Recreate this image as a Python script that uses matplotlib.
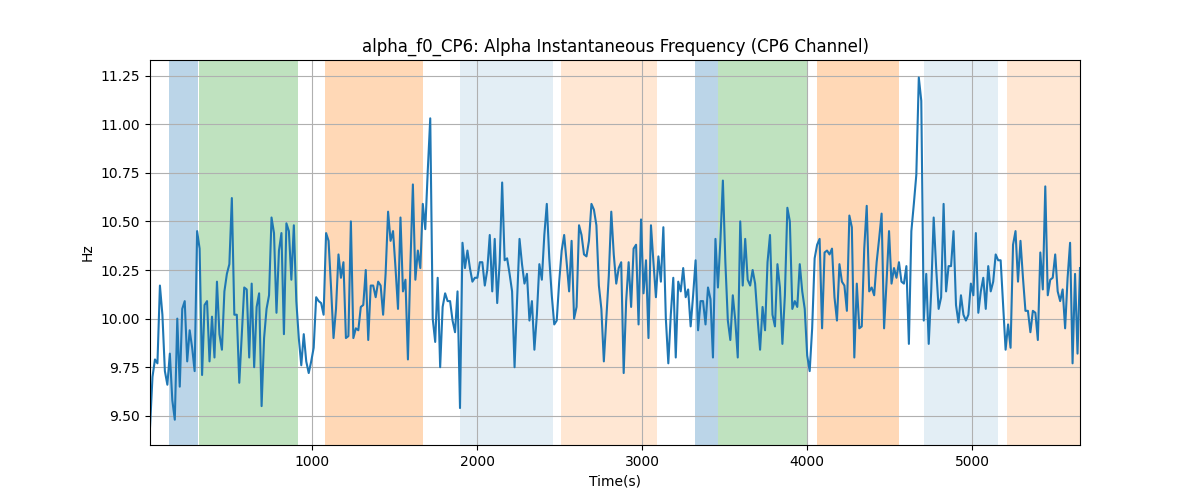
import numpy as np
import matplotlib
matplotlib.use("Agg")
import matplotlib.pyplot as plt

t_start = 17
t_end = 5655

freq = [
    # 17 - ~800 s
    9.44, 9.70, 9.79, 9.77, 10.17, 10.02, 9.73, 9.66, 9.82, 9.58, 9.48, 10.00, 9.65, 10.05, 10.09,
    9.78, 9.94, 9.85, 9.73, 10.45, 10.36, 9.71, 10.07, 10.09, 9.78, 10.01, 9.80, 10.19, 9.92, 9.84,
    10.14, 10.23, 10.28, 10.62, 10.02, 10.02, 9.67, 9.92, 10.16, 10.15, 9.80, 10.18, 9.75, 10.06, 10.13,
    9.55, 9.90, 10.05, 10.12, 10.52, 10.44, 10.03, 10.35, 10.44,
    # ~800 - 1600 s
    9.92, 10.49, 10.45, 10.20, 10.48, 10.09, 9.90, 9.76, 9.92, 9.78, 9.72, 9.78, 9.85, 10.11, 10.09,
    10.08, 10.02, 10.44, 10.40, 10.16, 9.90, 10.05, 10.33, 10.21, 10.29, 9.90, 9.91, 10.50, 9.90, 9.95,
    9.94, 10.06, 10.07, 10.25, 9.89, 10.17, 10.17, 10.11, 10.19, 10.17, 10.02, 10.23, 10.55, 10.40, 10.45,
    10.26, 10.05, 10.52, 10.14, 10.20, 9.79, 10.28, 10.69,
    # ~1600 - 2400 s
    10.20, 10.35, 10.26, 10.59, 10.46, 10.76, 11.03, 10.00, 9.88, 10.21, 9.75, 10.06, 10.13, 10.09, 10.09,
    9.99, 9.93, 10.14, 9.54, 10.39, 10.26, 10.35, 10.26, 10.19, 10.21, 10.21, 10.29, 10.29, 10.17, 10.25,
    10.43, 10.14, 10.41, 10.08, 10.29, 10.70, 10.30, 10.31, 10.23, 10.14, 9.75, 10.09, 10.41, 10.28, 10.18,
    10.23, 9.99, 10.09, 9.84, 10.02, 10.28, 10.20, 10.43, 10.59,
    # ~2400 - 3200 s
    10.31, 10.12, 9.97, 9.99, 10.19, 10.35, 10.43, 10.29, 10.14, 10.40, 10.00, 10.06, 10.48, 10.43, 10.33,
    10.32, 10.40, 10.59, 10.56, 10.48, 10.17, 10.05, 9.78, 10.00, 10.22, 10.55, 10.33, 10.18, 10.26, 10.29,
    9.72, 10.09, 10.29, 10.06, 10.36, 10.38, 9.97, 10.51, 10.13, 10.30, 9.90, 10.48, 10.29, 10.11, 10.32,
    10.19, 10.47, 10.00, 9.77, 10.02, 10.21, 9.80, 10.19, 10.14,
    # ~3200 - 4000 s
    10.26, 10.11, 10.15, 9.96, 10.12, 10.30, 9.94, 10.09, 10.09, 9.97, 10.16, 10.10, 9.80, 10.41, 10.16,
    10.40, 10.71, 10.29, 9.99, 9.89, 10.12, 9.99, 9.80, 10.50, 10.17, 10.41, 10.20, 10.17, 10.25, 10.18,
    10.00, 9.84, 10.06, 9.94, 10.29, 10.43, 10.02, 9.96, 10.28, 10.16, 9.87, 10.12, 10.57, 10.50, 10.05,
    10.09, 10.06, 10.28, 10.14, 10.05, 9.81, 9.73, 9.95, 10.31,
    # ~4000 - 4800 s
    10.38, 10.41, 9.95, 10.34, 10.35, 10.33, 10.36, 10.11, 9.99, 10.28, 10.19, 10.17, 10.04, 10.53, 10.47,
    9.80, 10.18, 9.95, 9.96, 10.36, 10.58, 10.14, 10.16, 10.12, 10.29, 10.41, 10.54, 9.95, 10.19, 10.45,
    10.18, 10.26, 10.21, 10.29, 10.19, 10.18, 10.27, 9.87, 10.45, 10.59, 10.74, 11.24, 11.12, 9.99, 10.23,
    9.87, 10.14, 10.52, 10.26, 10.05, 10.11, 10.59, 10.14,
    # ~4800 - 5655 s
    10.27, 10.27, 10.45, 10.07, 9.98, 10.12, 10.02, 9.99, 10.02, 10.18, 10.12, 10.44, 10.03, 10.14, 10.21,
    10.05, 10.27, 10.14, 10.19, 10.33, 10.30, 10.30, 10.07, 9.84, 9.97, 9.85, 10.38, 10.45, 10.19, 10.40,
    10.21, 10.04, 10.04, 9.93, 10.04, 10.03, 9.89, 10.34, 10.15, 10.68, 10.12, 10.20, 10.21, 10.33, 10.14,
    10.09, 10.15, 9.95, 10.21, 10.39, 9.77, 10.23, 9.82, 10.26,
]

# shaded periods: start, end, colour, alpha
span_starts = [132, 316, 1079, 1898, 2511, 3320, 3460, 4059, 4709, 5213]
span_ends = [308, 915, 1674, 2461, 3088, 3458, 4003, 4557, 5156, 5655]
span_colors = ["tab:blue", "tab:green", "tab:orange", "tab:blue", "tab:orange",
               "tab:blue", "tab:green", "tab:orange", "tab:blue", "tab:orange"]
span_alphas = [0.3, 0.3, 0.3, 0.12, 0.18, 0.3, 0.3, 0.3, 0.12, 0.18]

times = np.linspace(t_start, t_end, len(freq))

fig, ax = plt.subplots(figsize=(12, 5), dpi=100)
for s, e, c, a in zip(span_starts, span_ends, span_colors, span_alphas):
    ax.axvspan(s, e, color=c, alpha=a, linewidth=0)
ax.plot(times, freq, color="tab:blue")
ax.set_xlim(t_start, t_end)
ax.grid(True)
ax.set_title("alpha_f0_CP6: Alpha Instantaneous Frequency (CP6 Channel)")
ax.set_xlabel("Time(s)")
ax.set_ylabel("Hz")

fig.savefig("out.png")
